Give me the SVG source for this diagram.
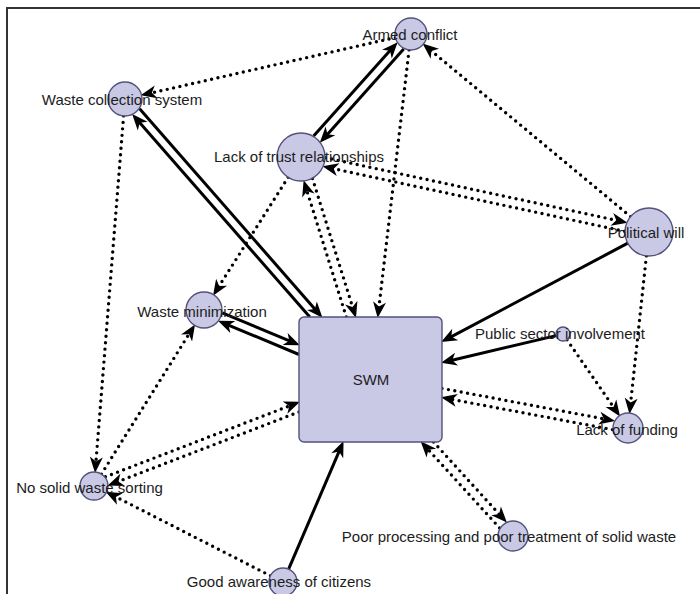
<svg xmlns="http://www.w3.org/2000/svg" width="700" height="594" viewBox="0 0 700 594">
  <style>
    .edge { fill: none; stroke: #000; stroke-width: 3; marker-end: url(#arr); }
    .dot { stroke-width: 3.4; stroke-dasharray: 0 6.5; stroke-linecap: round; }
    .node circle, .node rect { fill: #c9c9e6; stroke: #52527c; stroke-width: 1.4; }
    text { font-family: "Liberation Sans", Arial, sans-serif; font-size: 15px; fill: #1c1c1c; text-anchor: middle; }
  </style>
  <defs>
    <marker id="arr" viewBox="-10 -8 20 16" markerWidth="20" markerHeight="16" refX="0" refY="0" orient="auto" markerUnits="userSpaceOnUse">
      <path d="M8,0 L-8,-6.5 L-3.5,0 L-8,6.5 Z" fill="#000"/>
    </marker>
  </defs>

  <rect width="700" height="594" fill="#fff"/>
  <!-- frame -->
  <path d="M7,594 V8 H700" fill="none" stroke="#333" stroke-width="2"/>

  <g id="connectors">
    <!-- Armed conflict -->
    <line class="edge dot" x1="395.4" y1="37.5" x2="148.4" y2="93.6"/>
    <line class="edge" x1="403.7" y1="48.9" x2="325.1" y2="136.9"/>
    <line class="edge" x1="313.6" y1="136.1" x2="392.3" y2="48.1"/>
    <line class="edge dot" x1="409.1" y1="49.9" x2="378.6" y2="310.0"/>
    <!-- Political will -->
    <line class="edge dot" x1="630.6" y1="216.6" x2="428.7" y2="48.7"/>
    <line class="edge dot" x1="624.6" y1="231.3" x2="330.3" y2="168.0"/>
    <line class="edge dot" x1="325.4" y1="157.7" x2="619.7" y2="221.0"/>
    <line class="edge" x1="627.8" y1="243.2" x2="448.2" y2="338.3"/>
    <line class="edge dot" x1="646.4" y1="255.9" x2="630.3" y2="406.1"/>
    <!-- Waste collection system -->
    <line class="edge" x1="139.6" y1="108.8" x2="317.2" y2="311.7"/>
    <line class="edge" x1="309.8" y1="317" x2="137.4" y2="120.1"/>
    <line class="edge dot" x1="123.6" y1="115.9" x2="95.7" y2="465.0"/>
    <!-- Lack of trust relationships -->
    <line class="edge dot" x1="288.2" y1="177.3" x2="217.3" y2="288.9"/>
    <line class="edge dot" x1="312.5" y1="178.6" x2="353.6" y2="310.3"/>
    <line class="edge dot" x1="346.3" y1="317" x2="306.0" y2="187.9"/>
    <!-- Waste minimization -->
    <line class="edge" x1="222.3" y1="312.8" x2="292.5" y2="342.1"/>
    <line class="edge" x1="299" y1="354.5" x2="225.4" y2="323.8"/>
    <line class="edge dot" x1="101.4" y1="474.1" x2="190.8" y2="331.2"/>
    <!-- No solid waste sorting -->
    <line class="edge dot" x1="299" y1="411.9" x2="115.2" y2="482.7"/>
    <line class="edge dot" x1="105.4" y1="476.8" x2="292.5" y2="404.7"/>
    <!-- Good awareness of citizens -->
    <line class="edge dot" x1="270.5" y1="575.8" x2="112.8" y2="495.3"/>
    <line class="edge" x1="288.6" y1="569.2" x2="340.4" y2="448.4"/>
    <!-- Public sector involvement -->
    <line class="edge" x1="556.2" y1="335.6" x2="448.8" y2="361.0"/>
    <line class="edge dot" x1="567" y1="339.8" x2="615.5" y2="409.9"/>
    <!-- Lack of funding -->
    <line class="edge dot" x1="442" y1="388.4" x2="607.2" y2="419.5"/>
    <line class="edge dot" x1="612.4" y1="429.6" x2="448.9" y2="398.8"/>
    <!-- Poor processing -->
    <line class="edge dot" x1="433.5" y1="442" x2="501.5" y2="516.7"/>
    <line class="edge dot" x1="499.6" y1="527.9" x2="426.0" y2="447.2"/>
  </g>

  <g id="swm" class="node">
    <rect x="299" y="317" width="143" height="125" rx="5"/>
    <text x="371" y="385">SWM</text>
  </g>
  <g id="armed-conflict" class="node">
    <circle cx="411" cy="34" r="16"/>
    <text x="410" y="40">Armed conflict</text>
  </g>
  <g id="waste-collection-system" class="node">
    <circle cx="125" cy="99" r="17"/>
    <text x="122" y="105">Waste collection system</text>
  </g>
  <g id="lack-of-trust" class="node">
    <circle cx="301" cy="157" r="24"/>
    <text x="299" y="162">Lack of trust relationships</text>
  </g>
  <g id="political-will" class="node">
    <circle cx="649" cy="232" r="24"/>
    <text x="646" y="238">Political will</text>
  </g>
  <g id="waste-minimization" class="node">
    <circle cx="204" cy="310" r="18"/>
    <text x="202" y="316.5">Waste minimization</text>
  </g>
  <g id="public-sector" class="node">
    <circle cx="563" cy="334" r="7"/>
    <text x="560" y="339">Public sector involvement</text>
  </g>
  <g id="lack-of-funding" class="node">
    <circle cx="628" cy="428" r="15"/>
    <text x="627" y="435">Lack of funding</text>
  </g>
  <g id="no-sorting" class="node">
    <circle cx="94" cy="486" r="14"/>
    <text x="89.5" y="493">No solid waste sorting</text>
  </g>
  <g id="poor-processing" class="node">
    <circle cx="513" cy="536" r="15"/>
    <text x="509" y="541.5">Poor processing and poor treatment of solid waste</text>
  </g>
  <g id="good-awareness" class="node">
    <circle cx="283" cy="582" r="14"/>
    <text x="279" y="587">Good awareness of citizens</text>
  </g>
</svg>
